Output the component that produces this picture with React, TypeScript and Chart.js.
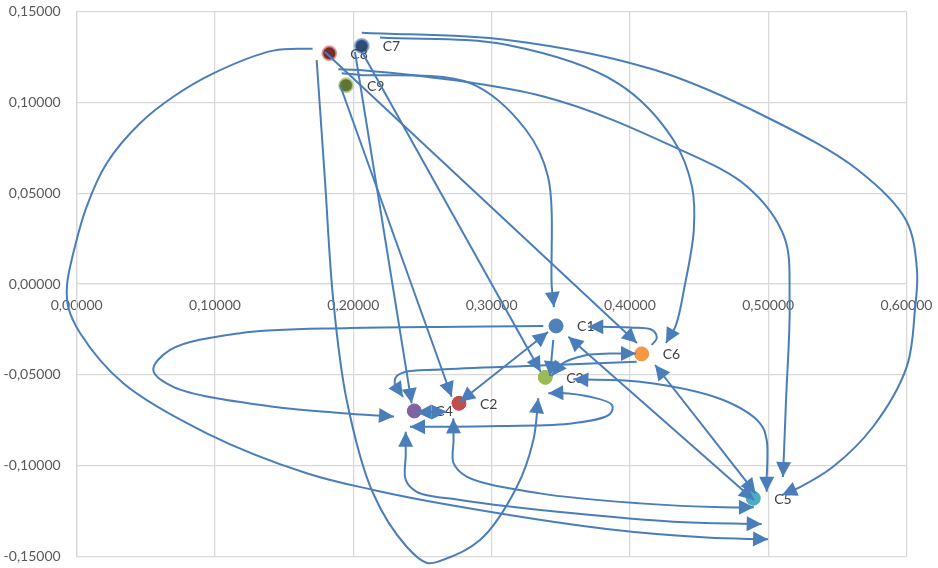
import { useEffect, useRef } from 'react';
import { Chart, registerables } from 'chart.js';

Chart.register(...registerables);

// ---- point data ----
const POINT_LABELS = ['C1', 'C2', 'C3', 'C4', 'C5', 'C6', 'C7', 'C8', 'C9'];
const POINT_X = [0.3466, 0.2764, 0.3388, 0.2441, 0.4892, 0.4085, 0.2061, 0.1827, 0.1947];
const POINT_Y = [-0.0231, -0.0657, -0.0514, -0.0699, -0.118, -0.0385, 0.1311, 0.127, 0.1094];
const POINT_COLORS = ['#4F81BD', '#C0504D', '#9BBB59', '#8064A2', '#4BACC6', '#F79646', '#2C4D75', '#772C2A', '#5F7530'];
const POINT_BORDERS = ['#4A7EBB', '#BE4B48', '#98B954', '#7D60A0', '#46AAC5', '#F69240', 'rgba(130,165,210,0.8)', 'rgba(225,150,150,0.8)', 'rgba(180,205,140,0.8)'];

// ---- axis ranges / ticks ----
const X_RANGE = [0, 0.6];
const X_STEP = 0.1;
const Y_RANGE = [-0.15, 0.15];
const Y_STEP = 0.05;

// ---- transition arrows (waypoints in data units) ----
const ARROW_A = [[0.1706, 0.1296], [0.1422, 0.1285], [0.0988, 0.116], [0.0698, 0.1031], [0.0458, 0.0885], [0.0217, 0.0665], [0.0072, 0.0426], [-0.0025, 0.0169], [-0.007, -0.0006], [-0.0061, -0.0127], [0.0024, -0.027], [0.0337, -0.0547], [0.094, -0.0822], [0.1663, -0.1042], [0.2145, -0.1134], [0.2699, -0.1217], [0.3832, -0.1349], [0.4555, -0.1396], [0.4999, -0.1406]];
const ARROW_B = [[0.1735, 0.1233], [0.1795, 0.0573], [0.1855, -0.0088], [0.1952, -0.0639], [0.2142, -0.1151], [0.2386, -0.1447], [0.2533, -0.1536], [0.2627, -0.1525], [0.2916, -0.141], [0.3182, -0.1118], [0.3302, -0.0859], [0.3338, -0.0629]];
const ARROW_T1 = [[0.2061, 0.1384], [0.3115, 0.1344], [0.4182, 0.1178], [0.4983, 0.0921], [0.5649, 0.0628], [0.5996, 0.0352], [0.6076, 0.0077], [0.6061, -0.0143], [0.6002, -0.0455], [0.5758, -0.0786], [0.5469, -0.1006], [0.523, -0.1118], [0.51, -0.1162]];
const ARROW_T2 = [[0.2193, 0.1358], [0.3115, 0.1316], [0.3914, 0.1105], [0.4315, 0.0793], [0.4449, 0.0536], [0.4462, 0.0297], [0.4395, -0.0015], [0.4333, -0.0226], [0.4261, -0.0325]];
const ARROW_T3 = [[0.1892, 0.1182], [0.2048, 0.1178], [0.3382, 0.1031], [0.4315, 0.0756], [0.4849, 0.0536], [0.5116, 0.026], [0.5155, -0.0088], [0.5129, -0.0639], [0.5107, -0.1063]];
const ARROW_T4 = [[0.1916, 0.116], [0.2048, 0.1151], [0.2849, 0.1105], [0.3249, 0.0848], [0.3408, 0.0591], [0.3435, -0.0015], [0.3451, -0.0127]];
const ARROW_L1 = [[0.1795, 0.1278], [0.4051, -0.0325]];
const ARROW_L2 = [[0.2063, 0.1278], [0.3355, -0.0483]];
const ARROW_L3 = [[0.2012, 0.1278], [0.2422, -0.0657]];
const ARROW_L4 = [[0.1904, 0.1096], [0.2711, -0.0621]];
const ARROW_E1 = [[0.3374, -0.0231], [0.2772, -0.0235], [0.1976, -0.0242], [0.1181, -0.0271], [0.0675, -0.0363], [0.0554, -0.0474], [0.0698, -0.0566], [0.1422, -0.0676], [0.1904, -0.071], [0.2294, -0.073]];
const ARROW_E2 = [[0.3446, -0.0308], [0.3422, -0.0507]];
const ARROW_E3 = [[0.2772, -0.0648], [0.3408, -0.0264]];
const ARROW_E4 = [[0.3435, -0.0507], [0.3495, -0.0446], [0.3688, -0.0391], [0.3856, -0.0383], [0.4044, -0.0383]];
const ARROW_E5 = [[0.4049, -0.0428], [0.335, -0.0449], [0.2627, -0.0471], [0.2374, -0.0485], [0.2309, -0.0512], [0.2302, -0.0556], [0.2359, -0.0622]];
const ARROW_E6 = [[0.2458, -0.0708], [0.2675, -0.0703]];
const ARROW_E7 = [[0.341, -0.0602], [0.3495, -0.06], [0.3711, -0.0621], [0.3871, -0.0666], [0.3856, -0.0716], [0.3591, -0.0767], [0.3061, -0.0782], [0.2627, -0.0786], [0.241, -0.0786]];
const ARROW_E8 = [[0.2723, -0.074], [0.2725, -0.0859], [0.2725, -0.0987], [0.282, -0.1061], [0.335, -0.1153], [0.4073, -0.1208], [0.4675, -0.123], [0.4897, -0.123]];
const ARROW_E9 = [[0.2379, -0.0813], [0.2379, -0.0942], [0.2379, -0.1079], [0.2458, -0.1144], [0.2772, -0.1189], [0.3591, -0.1263], [0.4314, -0.1309], [0.4953, -0.1322]];
const ARROW_E10 = [[0.3555, -0.029], [0.4897, -0.1189]];
const ARROW_E11 = [[0.4182, -0.0446], [0.4909, -0.1153]];
const ARROW_E12 = [[0.3591, -0.0525], [0.4073, -0.0538], [0.4675, -0.0639], [0.4941, -0.0767], [0.4989, -0.0859], [0.4989, -0.1079], [0.4989, -0.1144]];
const ARROW_E13 = [[0.4158, -0.0336], [0.4194, -0.0297], [0.416, -0.0253], [0.4001, -0.024], [0.3784, -0.0235], [0.3699, -0.0235]];

// [path, head at start, head at end]
const ARROWS: [number[][], boolean, boolean][] = [
  [ARROW_A, false, true],
  [ARROW_B, false, true],
  [ARROW_T1, false, true],
  [ARROW_T2, false, true],
  [ARROW_T3, false, true],
  [ARROW_T4, false, true],
  [ARROW_L1, false, true],
  [ARROW_L2, false, true],
  [ARROW_L3, false, true],
  [ARROW_L4, false, true],
  [ARROW_E1, false, true],
  [ARROW_E2, false, true],
  [ARROW_E3, true, true],
  [ARROW_E4, true, true],
  [ARROW_E5, false, true],
  [ARROW_E6, true, true],
  [ARROW_E7, true, true],
  [ARROW_E8, true, true],
  [ARROW_E9, true, true],
  [ARROW_E10, true, true],
  [ARROW_E11, true, true],
  [ARROW_E12, true, true],
  [ARROW_E13, false, true],
];

const FONT = 'Lato, "Liberation Sans", sans-serif';
const LINE_COLOR = '#4A7EBB';

function fmt(v: number) {
  const n = Math.abs(v) < 1e-9 ? 0 : v;
  return n.toFixed(5).replace('.', ',');
}

function drawHead(ctx: CanvasRenderingContext2D, tip: number[], from: number[]) {
  const dx = tip[0] - from[0];
  const dy = tip[1] - from[1];
  const len = Math.hypot(dx, dy) || 1;
  const ux = dx / len;
  const uy = dy / len;
  const L = 15;
  const W = 7.5;
  const bx = tip[0] - ux * L;
  const by = tip[1] - uy * L;
  ctx.beginPath();
  ctx.moveTo(tip[0], tip[1]);
  ctx.lineTo(bx - uy * W, by + ux * W);
  ctx.lineTo(bx + uy * W, by - ux * W);
  ctx.closePath();
  ctx.fill();
}

// centripetal Catmull-Rom -> cubic bezier segments
function segments(p: number[][]) {
  const n = p.length;
  const ext = [
    [2 * p[0][0] - p[1][0], 2 * p[0][1] - p[1][1]],
    ...p,
    [2 * p[n - 1][0] - p[n - 2][0], 2 * p[n - 1][1] - p[n - 2][1]],
  ];
  const segs: number[][][] = [];
  for (let i = 1; i < ext.length - 2; i++) {
    const P0 = ext[i - 1], P1 = ext[i], P2 = ext[i + 1], P3 = ext[i + 2];
    const d1 = Math.max(Math.sqrt(Math.hypot(P1[0] - P0[0], P1[1] - P0[1])), 1e-4);
    const d2 = Math.max(Math.sqrt(Math.hypot(P2[0] - P1[0], P2[1] - P1[1])), 1e-4);
    const d3 = Math.max(Math.sqrt(Math.hypot(P3[0] - P2[0], P3[1] - P2[1])), 1e-4);
    const c1 = [0, 1].map((k) =>
      (d1 * d1 * P2[k] - d2 * d2 * P0[k] + (2 * d1 * d1 + 3 * d1 * d2 + d2 * d2) * P1[k]) / (3 * d1 * (d1 + d2))
    );
    const c2 = [0, 1].map((k) =>
      (d3 * d3 * P1[k] - d2 * d2 * P3[k] + (2 * d3 * d3 + 3 * d3 * d2 + d2 * d2) * P2[k]) / (3 * d3 * (d3 + d2))
    );
    segs.push([P1, c1, c2, P2]);
  }
  return segs;
}

const overlayPlugin = {
  id: 'overlay',
  afterDatasetsDraw(chart: any) {
    const ctx: CanvasRenderingContext2D = chart.ctx;
    const xs = chart.scales.x;
    const ys = chart.scales.y;
    ctx.save();
    // data labels
    ctx.font = `14px ${FONT}`;
    ctx.fillStyle = '#404040';
    ctx.textAlign = 'left';
    ctx.textBaseline = 'middle';
    POINT_LABELS.forEach((lab, i) => {
      ctx.fillText(lab, xs.getPixelForValue(POINT_X[i]) + 21, ys.getPixelForValue(POINT_Y[i]) + 1);
    });
    // arrows
    ctx.strokeStyle = LINE_COLOR;
    ctx.fillStyle = LINE_COLOR;
    ctx.lineWidth = 2;
    ctx.lineJoin = 'round';
    ARROWS.forEach(([path, hs, he]) => {
      const p = path.map(([x, y]) => [xs.getPixelForValue(x), ys.getPixelForValue(y)]);
      const segs = segments(p);
      ctx.beginPath();
      ctx.moveTo(p[0][0], p[0][1]);
      segs.forEach((s) => ctx.bezierCurveTo(s[1][0], s[1][1], s[2][0], s[2][1], s[3][0], s[3][1]));
      ctx.stroke();
      const last = segs[segs.length - 1];
      const first = segs[0];
      if (he) drawHead(ctx, last[3], Math.hypot(last[2][0] - last[3][0], last[2][1] - last[3][1]) > 0.5 ? last[2] : last[0]);
      if (hs) drawHead(ctx, first[0], Math.hypot(first[1][0] - first[0][0], first[1][1] - first[0][1]) > 0.5 ? first[1] : first[3]);
    });
    ctx.restore();
  },
};

export default function App() {
  const ref = useRef<HTMLCanvasElement | null>(null);
  useEffect(() => {
    document.body.style.margin = '0';
    if (!ref.current) return;
    const chart = new Chart(ref.current, {
      type: 'scatter',
      data: {
        datasets: [
          {
            data: POINT_X.map((x, i) => ({ x, y: POINT_Y[i] })),
            backgroundColor: POINT_COLORS,
            borderColor: POINT_BORDERS,
            borderWidth: [1, 1, 1, 1, 1, 1, 2, 2, 2],
            pointRadius: 7,
            pointHoverRadius: 7,
          },
        ],
      },
      options: {
        responsive: false,
        animation: false,
        events: [],
        layout: { padding: { left: 0, right: 31.5, top: 11.6, bottom: 11.6 } },
        plugins: { legend: { display: false }, tooltip: { enabled: false } },
        scales: {
          x: {
            type: 'linear',
            position: { y: 0 },
            min: X_RANGE[0],
            max: X_RANGE[1],
            grid: { color: '#D9D9D9', lineWidth: 1.3, drawTicks: false },
            border: { color: '#D9D9D9', width: 1.3 },
            ticks: {
              stepSize: X_STEP,
              padding: 13,
              color: '#595959',
              font: { family: FONT, size: 14 },
              callback: (v: any) => fmt(Number(v)),
              maxRotation: 0,
              autoSkip: false,
            },
            afterFit: (s: any) => {
              s.paddingLeft = 0;
              s.paddingRight = 0;
            },
          },
          y: {
            type: 'linear',
            position: 'left',
            min: Y_RANGE[0],
            max: Y_RANGE[1],
            grid: { color: '#D9D9D9', lineWidth: 1.3, drawTicks: false },
            border: { color: '#D9D9D9', width: 1.3 },
            ticks: {
              stepSize: Y_STEP,
              padding: 16,
              color: '#595959',
              font: { family: FONT, size: 14 },
              callback: (v: any) => fmt(Number(v)),
              autoSkip: false,
            },
            afterFit: (s: any) => {
              s.width = 76.7;
              s.paddingTop = 0;
              s.paddingBottom = 0;
            },
          },
        },
      },
      plugins: [overlayPlugin],
    });
    return () => chart.destroy();
  }, []);
  return (
    <div style={{ position: 'fixed', left: 0, top: 0, width: 938, height: 568, background: '#fff' }}>
      <canvas ref={ref} width={938} height={568} />
    </div>
  );
}
